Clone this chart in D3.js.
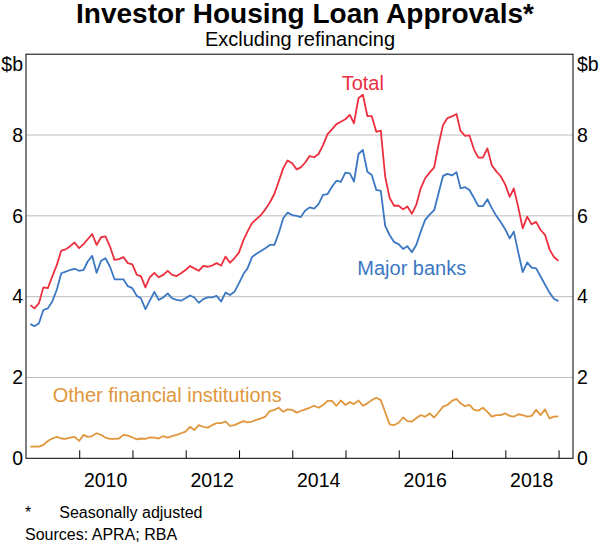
<!DOCTYPE html>
<html>
<head>
<meta charset="utf-8">
<script src="https://cdn.jsdelivr.net/npm/d3@7"></script>
<style>
  html, body { margin: 0; padding: 0; background: #fff; }
  svg { display: block; }
  text { font-family: "Liberation Sans", Arial, sans-serif; }
</style>
</head>
<body>
<div id="chart"></div>
<script>
// ---------------- DATA ----------------
const title = "Investor Housing Loan Approvals*";
const subtitle = "Excluding refinancing";
const unitLabel = "$b";
const firstMonth = "2009-01";   // monthly observations, Jan 2009 – Dec 2018
const lastMonth = "2018-12";

const total = [
  3.79, 3.71, 3.84, 4.23, 4.21, 4.50, 4.78, 5.14, 5.17, 5.25, 5.34, 5.20,
  5.30, 5.42, 5.55, 5.28, 5.47, 5.49, 5.24, 4.91, 4.93, 4.98, 4.83, 4.80,
  4.54, 4.51, 4.23, 4.48, 4.59, 4.48, 4.54, 4.64, 4.54, 4.51, 4.58, 4.66,
  4.76, 4.70, 4.64, 4.76, 4.74, 4.77, 4.83, 4.77, 4.99, 4.84, 4.95, 5.09,
  5.40, 5.61, 5.82, 5.92, 6.02, 6.16, 6.33, 6.54, 6.85, 7.18, 7.37, 7.30,
  7.15, 7.20, 7.32, 7.48, 7.45, 7.53, 7.75, 8.02, 8.14, 8.27, 8.33, 8.39,
  8.50, 8.29, 8.91, 9.00, 8.47, 8.47, 8.08, 8.11, 6.97, 6.44, 6.25, 6.25,
  6.16, 6.23, 6.05, 6.27, 6.68, 6.93, 7.07, 7.20, 7.76, 8.25, 8.42, 8.46,
  8.52, 8.10, 7.98, 7.99, 7.64, 7.44, 7.44, 7.67, 7.25, 7.10, 6.98, 6.78,
  6.47, 6.68, 6.21, 5.69, 5.98, 5.79, 5.85, 5.65, 5.53, 5.17, 4.98, 4.89
];

const majorBanks = [
  3.32, 3.27, 3.34, 3.67, 3.71, 3.88, 4.17, 4.58, 4.62, 4.66, 4.69, 4.64,
  4.66, 4.87, 5.01, 4.59, 4.89, 4.95, 4.74, 4.43, 4.43, 4.43, 4.26, 4.21,
  4.02, 3.96, 3.69, 3.90, 4.12, 3.92, 3.98, 4.08, 3.96, 3.92, 3.90, 3.96,
  4.03, 3.98, 3.85, 3.94, 3.98, 3.98, 4.02, 3.88, 4.10, 4.04, 4.12, 4.33,
  4.56, 4.70, 4.98, 5.06, 5.13, 5.20, 5.28, 5.28, 5.57, 5.94, 6.08, 6.02,
  6.00, 5.97, 6.13, 6.21, 6.18, 6.29, 6.52, 6.54, 6.72, 6.87, 6.84, 7.07,
  7.05, 6.85, 7.53, 7.63, 7.09, 7.01, 6.64, 6.62, 5.75, 5.52, 5.35, 5.30,
  5.18, 5.25, 5.10, 5.28, 5.61, 5.90, 6.03, 6.14, 6.56, 6.99, 7.04, 7.00,
  7.08, 6.68, 6.71, 6.64, 6.44, 6.24, 6.24, 6.41, 6.19, 6.00, 5.85, 5.67,
  5.44, 5.61, 5.09, 4.61, 4.85, 4.72, 4.70, 4.50, 4.30, 4.10, 3.95, 3.89
];

const otherFI = [
  0.29, 0.29, 0.29, 0.33, 0.43, 0.49, 0.53, 0.49, 0.48, 0.51, 0.53, 0.43,
  0.58, 0.53, 0.55, 0.62, 0.58, 0.51, 0.48, 0.48, 0.49, 0.58, 0.56, 0.52,
  0.47, 0.49, 0.48, 0.52, 0.51, 0.49, 0.55, 0.51, 0.55, 0.58, 0.62, 0.66,
  0.78, 0.70, 0.82, 0.78, 0.76, 0.82, 0.87, 0.87, 0.91, 0.80, 0.82, 0.87,
  0.92, 0.89, 0.91, 0.95, 0.99, 1.03, 1.17, 1.20, 1.25, 1.15, 1.21, 1.20,
  1.13, 1.17, 1.21, 1.25, 1.30, 1.25, 1.32, 1.42, 1.42, 1.30, 1.43, 1.32,
  1.39, 1.34, 1.43, 1.30, 1.36, 1.44, 1.50, 1.44, 1.14, 0.84, 0.82, 0.88,
  1.01, 0.92, 0.91, 0.99, 1.07, 1.03, 1.11, 1.01, 1.14, 1.28, 1.32, 1.42,
  1.47, 1.36, 1.29, 1.32, 1.20, 1.18, 1.25, 1.15, 1.03, 1.07, 1.07, 1.11,
  1.05, 1.03, 1.09, 1.07, 1.03, 1.05, 1.20, 1.07, 1.21, 0.99, 1.03, 1.04
];

const seriesNames = ["Total", "Major banks", "Other financial institutions"];
const seriesColors = ["#ec2f3f", "#3b77c2", "#e0963c"];

const yTicks = [0, 2, 4, 6, 8];
const xTickYears = [2010, 2011, 2012, 2013, 2014, 2015, 2016, 2017, 2018, 2019];
const xLabelYears = [2010, 2012, 2014, 2016, 2018];
const footnote = "Seasonally adjusted";
const sources = "Sources: APRA; RBA";

// ---------------- LAYOUT ----------------
const W = 600, H = 545;
const plot = { left: 26, right: 573, top: 54.2, bottom: 458.3 };

const parseMonth = d3.timeParse("%Y-%m");
const months = d3.timeMonth.range(parseMonth(firstMonth), d3.timeMonth.offset(parseMonth(lastMonth), 1));
// observations plotted at end of month
const dates = months.map(m => d3.timeDay.offset(d3.timeMonth.offset(m, 1), -1));

const x = d3.scaleTime()
  .domain([new Date(2009, 0, 1), new Date(2019, 3, 10)])
  .range([plot.left, plot.right]);
const y = d3.scaleLinear().domain([0, 10]).range([plot.bottom, plot.top]);

const svg = d3.select("#chart").append("svg")
  .attr("width", W).attr("height", H);

// titles
svg.append("text").attr("x", 305).attr("y", 23)
  .attr("text-anchor", "middle").attr("font-size", 28).attr("font-weight", "bold")
  .attr("fill", "#000").text(title);
svg.append("text").attr("x", 300).attr("y", 46)
  .attr("text-anchor", "middle").attr("font-size", 20)
  .attr("fill", "#000").text(subtitle);

// gridlines
svg.append("g").selectAll("line").data(yTicks.filter(d => d > 0)).join("line")
  .attr("x1", plot.left).attr("x2", plot.right)
  .attr("y1", d => y(d)).attr("y2", d => y(d))
  .attr("stroke", "#bcbcbc").attr("stroke-width", 1);

// y axes (labels only)
const yAxisL = d3.axisLeft(y).tickValues(yTicks).tickSize(0).tickPadding(3);
const gL = svg.append("g").attr("transform", `translate(${plot.left},0)`).call(yAxisL);
gL.select(".domain").remove();
gL.selectAll("text").attr("font-size", 19.5).attr("fill", "#000")
  .style("font-family", '"Liberation Sans", Arial, sans-serif');

const yAxisR = d3.axisRight(y).tickValues(yTicks).tickSize(0).tickPadding(4);
const gR = svg.append("g").attr("transform", `translate(${plot.right},0)`).call(yAxisR);
gR.select(".domain").remove();
gR.selectAll("text").attr("font-size", 19.5).attr("fill", "#000")
  .style("font-family", '"Liberation Sans", Arial, sans-serif');

svg.append("text").attr("x", 23).attr("y", 70.5).attr("text-anchor", "end")
  .attr("font-size", 19.5).text(unitLabel);
svg.append("text").attr("x", 577).attr("y", 70.5).attr("text-anchor", "start")
  .attr("font-size", 19.5).text(unitLabel);

// x axis: ticks at year boundaries (pointing up), labels mid-year
const xAxis = d3.axisTop(x)
  .tickValues(xTickYears.map(yr => new Date(yr, 0, 1)))
  .tickSize(8).tickFormat("");
const gX = svg.append("g").attr("transform", `translate(0,${plot.bottom})`).call(xAxis);
gX.select(".domain").remove();
gX.selectAll("line").attr("stroke", "#000").attr("stroke-width", 1);

svg.append("g").selectAll("text").data(xLabelYears).join("text")
  .attr("x", d => x(new Date(d, 6, 1)))
  .attr("y", 486.5)
  .attr("text-anchor", "middle").attr("font-size", 19.5).attr("fill", "#000")
  .text(d => d);

// lines
const allSeries = [total, majorBanks, otherFI];
const lineGen = d3.line().x(d => x(d[0])).y(d => y(d[1]));
svg.append("g").selectAll("path").data(allSeries).join("path")
  .attr("d", s => lineGen(s.map((v, i) => [dates[i], v])))
  .attr("fill", "none")
  .attr("stroke", (s, i) => seriesColors[i])
  .attr("stroke-width", 1.8)
  .attr("stroke-linejoin", "round");

// frame
svg.append("rect")
  .attr("x", plot.left).attr("y", plot.top)
  .attr("width", plot.right - plot.left).attr("height", plot.bottom - plot.top)
  .attr("fill", "none").attr("stroke", "#000").attr("stroke-width", 1);

// series labels
const labelPos = [
  { x: 341.7, y: 90 },
  { x: 357.3, y: 275 },
  { x: 52.7, y: 402.3 }
];
svg.append("g").selectAll("text").data(seriesNames).join("text")
  .attr("x", (d, i) => labelPos[i].x).attr("y", (d, i) => labelPos[i].y)
  .attr("font-size", 20).attr("fill", (d, i) => seriesColors[i])
  .text(d => d);

// footnotes
svg.append("text").attr("x", 25).attr("y", 517.5).attr("font-size", 16).text("*");
svg.append("text").attr("x", 59.3).attr("y", 517.5).attr("font-size", 16).text(footnote);
svg.append("text").attr("x", 25).attr("y", 540).attr("font-size", 16).text(sources);
</script>
</body>
</html>
